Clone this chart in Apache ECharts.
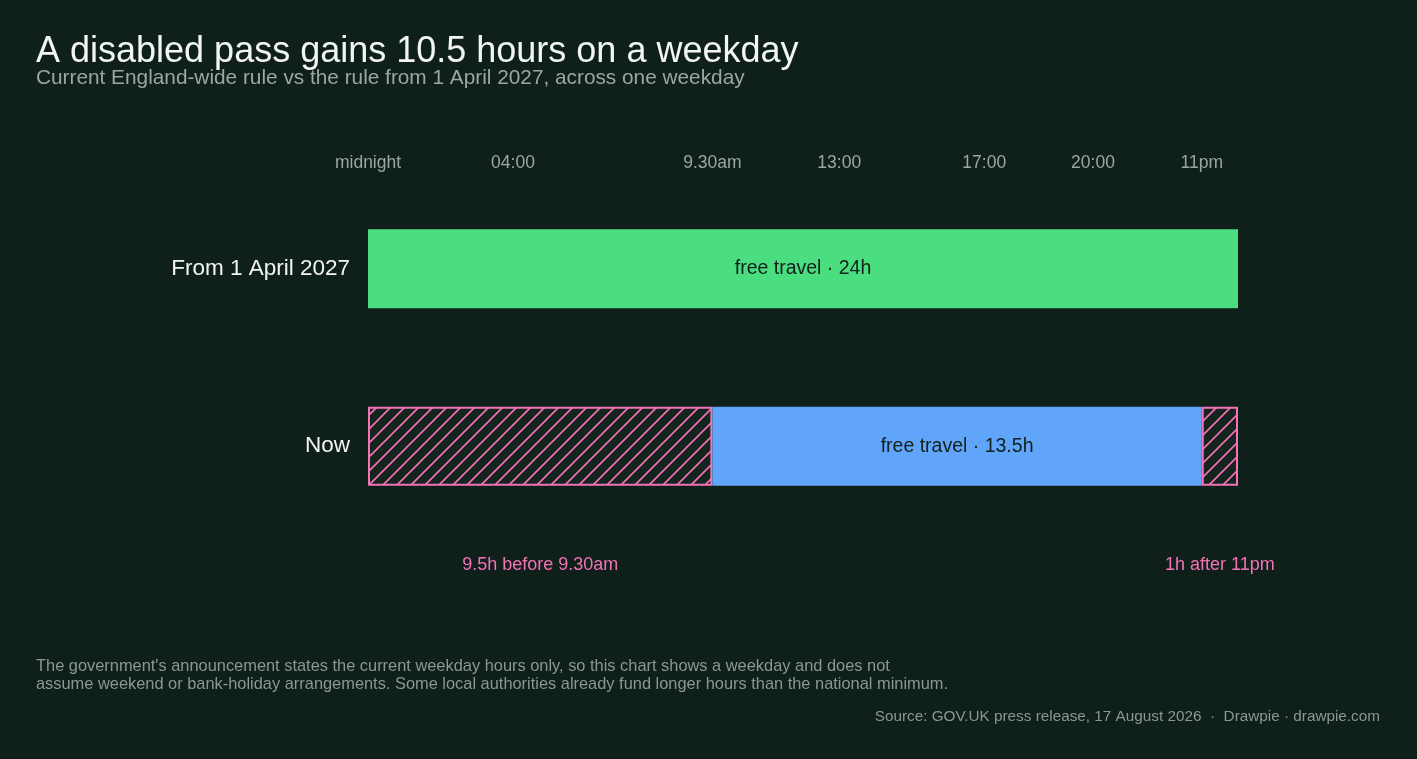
<!DOCTYPE html>
<html>
<head>
<meta charset="utf-8">
<script src="https://cdn.jsdelivr.net/npm/echarts@6/dist/echarts.min.js"></script>
<style>
  html, body { margin: 0; padding: 0; background: #0f1f19; }
  #chart { width: 1417px; height: 759px; }
</style>
</head>
<body>
<div id="chart"></div>
<script>
// rows, bottom to top on the category axis
const rows = ['Now', 'From 1 April 2027'];
// hours of the weekday in each segment ('-' = no segment)
const restrictedBefore = [9.5, '-'];
const freeHours = [13.5, 24];
const restrictedAfter = [1, '-'];
const freeLabels = ['free travel · 13.5h', 'free travel · 24h'];
const beforeNote = '9.5h before 9.30am';
const afterNote = '1h after 11pm';
const tickValues = [0, 4, 9.5, 13, 17, 20, 23];
const tickLabels = ['midnight', '04:00', '9.30am', '13:00', '17:00', '20:00', '11pm'];

const BG = '#0f1f19';
const PINK = '#f472b6';
const FONT = '"Liberation Sans", Arial, sans-serif';

// diagonal hatch tile for the restricted hours
function hatch() {
  const s = 14;
  const c = document.createElement('canvas');
  c.width = s; c.height = s;
  const g = c.getContext('2d');
  g.fillStyle = '#16241e';
  g.fillRect(0, 0, s, s);
  g.strokeStyle = PINK;
  g.lineWidth = 1.6;
  g.beginPath();
  g.moveTo(-2, s + 2); g.lineTo(s + 2, -2);
  g.moveTo(-2, 2); g.lineTo(2, -2);
  g.moveTo(s - 2, s + 2); g.lineTo(s + 2, s - 2);
  g.stroke();
  return c;
}
const hatchFill = { image: hatch(), repeat: 'repeat' };

const chart = echarts.init(document.getElementById('chart'), null, { renderer: 'canvas' });

chart.setOption({
  backgroundColor: BG,
  animation: false,
  textStyle: { fontFamily: FONT },
  title: [
    {
      text: 'A disabled pass gains 10.5 hours on a weekday',
      left: 36, top: 34, padding: 0,
      textStyle: { color: '#f2f5f3', fontSize: 36, fontWeight: 'normal', fontFamily: FONT }
    },
    {
      text: 'Current England-wide rule vs the rule from 1 April 2027, across one weekday',
      left: 36, top: 68, padding: 0,
      textStyle: { color: '#9aa8a1', fontSize: 20.8, fontWeight: 'normal', fontFamily: FONT }
    },
    {
      text: 'The government\'s announcement states the current weekday hours only, so this chart shows a weekday and does not\nassume weekend or bank-holiday arrangements. Some local authorities already fund longer hours than the national minimum.',
      left: 36, top: 657, padding: 0,
      textStyle: { color: '#8a9891', fontSize: 16.4, lineHeight: 18, fontWeight: 'normal', fontFamily: FONT }
    },
    {
      text: 'Source: GOV.UK press release, 17 August 2026  ·  Drawpie · drawpie.com',
      right: 37, top: 709, padding: 0,
      textStyle: { color: '#8a9891', fontSize: 15.3, fontWeight: 'normal', fontFamily: FONT }
    }
  ],
  grid: { left: 368, right: 179, top: 180, bottom: 224 },
  xAxis: {
    type: 'value',
    position: 'top',
    min: 0,
    max: 24,
    axisLine: { show: false },
    axisTick: { show: false },
    splitLine: { show: false },
    axisLabel: {
      customValues: tickValues,
      margin: 8,
      color: '#9aa8a1',
      fontSize: 17.5,
      fontFamily: FONT,
      formatter: v => tickLabels[tickValues.indexOf(v)]
    }
  },
  yAxis: {
    type: 'category',
    data: rows,
    axisLine: { show: false },
    axisTick: { show: false },
    axisLabel: { color: '#f2f5f3', fontSize: 22.5, margin: 18, fontFamily: FONT }
  },
  series: [
    {
      type: 'bar',
      stack: 'day',
      barWidth: 79,
      data: restrictedBefore,
      itemStyle: { color: hatchFill, borderColor: PINK, borderWidth: 2 },
      label: {
        show: true,
        position: 'bottom',
        distance: 70,
        color: PINK,
        fontSize: 18,
        fontFamily: FONT,
        formatter: p => (p.value > 0 ? beforeNote : '')
      }
    },
    {
      type: 'bar',
      stack: 'day',
      barWidth: 79,
      data: freeHours.map((v, i) => ({
        value: v,
        itemStyle: { color: i === 0 ? '#60a5fa' : '#4ade80' }
      })),
      label: {
        show: true,
        position: 'inside',
        color: '#11201a',
        fontSize: 19.5,
        fontFamily: FONT,
        formatter: p => freeLabels[p.dataIndex]
      }
    },
    {
      type: 'bar',
      stack: 'day',
      barWidth: 79,
      data: restrictedAfter,
      itemStyle: { color: hatchFill, borderColor: PINK, borderWidth: 2 },
      label: {
        show: true,
        position: 'bottom',
        distance: 70,
        color: PINK,
        fontSize: 18,
        fontFamily: FONT,
        formatter: p => (p.value > 0 ? afterNote : '')
      }
    }
  ]
});
</script>
</body>
</html>
